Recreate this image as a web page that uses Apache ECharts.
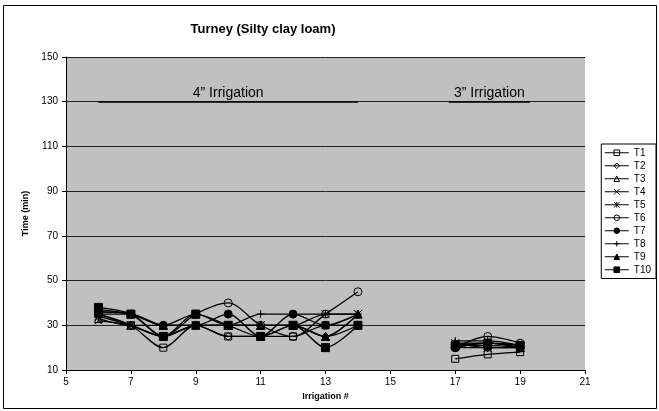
<!DOCTYPE html>
<html><head><meta charset="utf-8">
<script src="https://cdn.jsdelivr.net/npm/echarts@6/dist/echarts.min.js"></script>
<style>html,body{margin:0;padding:0;background:#fff}#c{width:659px;height:411px}</style>
</head><body><div id="c"></div>
<script>
const irrigation = [6, 7, 8, 9, 10, 11, 12, 13, 14, 17, 18, 19];
const names = ['T1','T2','T3','T4','T5','T6','T7','T8','T9','T10'];
const T1  = [35, 30, 20, 30, 25, 25, 25, 30, 30, 15, 17, 18];
const T2  = [35, 30, 25, 30, 25, 25, 30, 25, 30, 20, 20, 20];
const T3  = [33, 30, 30, 30, 30, 30, 30, 25, 35, 22, 22, 20];
const T4  = [32, 30, 25, 30, 30, 30, 30, 30, 35, 20, 22, 21];
const T5  = [34, 30, 25, 30, 30, 30, 30, 35, 35, 22, 20, 20];
const T6  = [36, 35, 25, 35, 40, 30, 25, 35, 45, 20, 25, 22];
const T7  = [35, 35, 30, 30, 35, 25, 35, 30, 30, 20, 22, 20];
const T8  = [37, 35, 30, 30, 30, 35, 35, 35, 35, 23, 23, 21];
const T9  = [36, 35, 30, 35, 30, 30, 30, 25, 35, 21, 21, 20];
const T10 = [38, 35, 25, 35, 30, 25, 30, 20, 30, 21, 22, 21];
const values = [T1, T2, T3, T4, T5, T6, T7, T8, T9, T10];
const xTicks = [5, 7, 9, 11, 13, 15, 17, 19, 21];
const yTicks = [10, 30, 50, 70, 90, 110, 130, 150];
const bands = [{label: '4\u201d Irrigation', from: 6, to: 14, y: 130}, {label: '3\u201d Irrigation', from: 16.8, to: 19.3, y: 130}];

const symbols = [
  ['rect', false], ['diamond', false], ['triangle', false],
  ['path://M0,0L10,10M10,0L0,10', false],
  ['path://M0,0L10,10M10,0L0,10M5,0L5,10', false],
  ['circle', false], ['circle', true],
  ['path://M5,0L5,10M0,5L10,5', false],
  ['triangle', true], ['rect', true]
];
const sizes = [7, 8, 8, 7, 8, 8, 8, 8, 8, 8];

function buildData(v) {
  const d = [];
  irrigation.forEach((x, i) => {
    if (x === 17) d.push([15.5, null]);
    d.push([x, v[i]]);
  });
  return d;
}

function itemStyleFor(i) {
  return {color: symbols[i][1] ? '#000' : 'rgba(0,0,0,0)', borderColor: '#000', borderWidth: 1};
}

const series = names.map((n, i) => ({
  name: n, type: 'line', smooth: 0.3, connectNulls: false,
  data: buildData(values[i]),
  symbol: symbols[i][0], symbolSize: sizes[i],
  lineStyle: {color: '#000', width: 1.3},
  itemStyle: itemStyleFor(i),
  emphasis: {disabled: true},
  z: 3 + i
}));

series.push({
  name: 'bands', type: 'line', data: [], silent: true,
  markLine: {
    symbol: 'none', silent: true, animation: false,
    lineStyle: {color: '#000', width: 1.5, type: 'solid'},
    label: {position: 'middle', color: '#000', fontSize: 14, fontFamily: 'Liberation Sans', distance: 2},
    data: bands.map(b => [{coord: [b.from, b.y], label: {formatter: b.label}}, {coord: [b.to, b.y]}])
  }
});

const chart = echarts.init(document.getElementById('c'));
chart.setOption({
  animation: false,
  textStyle: {fontFamily: 'Liberation Sans'},
  title: {text: 'Turney (Silty clay loam)', left: 258, textAlign: 'center', top: 18,
    textStyle: {fontSize: 13, fontWeight: 'bold', color: '#000', fontFamily: 'Liberation Sans'}},
  graphic: [{type: 'rect', shape: {x: 3.5, y: 5.5, width: 653, height: 403}, style: {fill: 'none', stroke: '#000', lineWidth: 1}, z: -1}],
  grid: {left: 66, right: 74, top: 57, bottom: 41, show: true, backgroundColor: '#c0c0c0', borderWidth: 0},
  legend: {
    data: names.map((n, i) => ({name: n, itemStyle: itemStyleFor(i), lineStyle: {color: '#000', width: 1}})),
    orient: 'vertical', right: 3, top: 144,
    itemWidth: 24, itemHeight: 7, itemGap: 1.5,
    backgroundColor: '#fff', borderColor: '#000', borderWidth: 1, padding: [3, 5, 3, 3],
    textStyle: {fontSize: 10, color: '#000', fontFamily: 'Liberation Sans', lineHeight: 11.5},
    selectedMode: false
  },
  xAxis: {
    type: 'value', min: xTicks[0], max: xTicks[xTicks.length - 1], interval: 2,
    name: 'Irrigation #', nameLocation: 'middle', nameGap: 22,
    nameTextStyle: {fontSize: 9, fontWeight: 'bold', color: '#000'},
    axisLine: {lineStyle: {color: '#000'}}, axisTick: {show: true, length: 4, lineStyle: {color: '#000'}},
    axisLabel: {fontSize: 10, color: '#000', margin: 7}, splitLine: {show: false}
  },
  yAxis: {
    type: 'value', min: yTicks[0], max: yTicks[yTicks.length - 1], interval: 20,
    name: 'Time (min)', nameLocation: 'middle', nameGap: 36, nameRotate: 90,
    nameTextStyle: {fontSize: 9, fontWeight: 'bold', color: '#000'},
    axisLine: {show: true, lineStyle: {color: '#000'}}, axisTick: {show: true, length: 4, lineStyle: {color: '#000'}},
    axisLabel: {fontSize: 10, color: '#000', margin: 8},
    splitLine: {show: true, lineStyle: {color: '#222', width: 1}}
  },
  series: series
});
</script></body></html>
